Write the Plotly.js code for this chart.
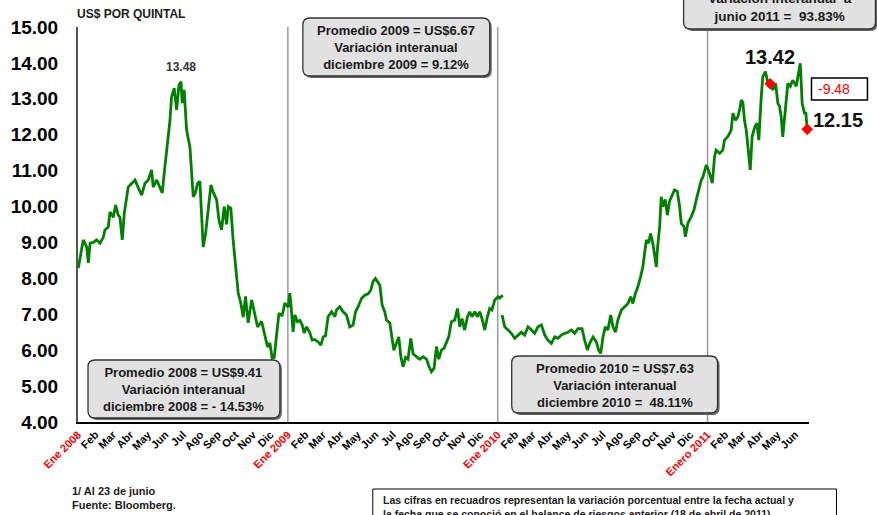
<!DOCTYPE html>
<html><head><meta charset="utf-8">
<script src="https://cdn.plot.ly/plotly-3.0.1.min.js"></script>
<style>html,body{margin:0;padding:0;background:#fff;}#chart{width:877px;height:515px;}</style>
</head><body><div id="chart"></div>
<script>
// x = months since January 2008 (0 = Ene 2008), y = US$ por quintal
const seg1Pos = [0.02,0.11,0.30,0.50,0.59,0.69,0.87,1.07,1.26,1.45,1.54,1.73,1.83,2.02,2.15,2.30,2.40,2.53,2.65,2.87,3.07,3.26,3.45,3.64,3.83,4.02,4.21,4.30,4.50,4.69,4.82,4.93,5.13,5.26,5.35,5.50,5.64,5.77,5.89,5.96,6.07,6.21,6.40,6.50,6.59,6.72,6.84,6.97,7.03,7.16,7.30,7.45,7.60,7.73,7.93,8.06,8.21,8.36,8.50,8.59,8.74,8.87,9.01,9.16,9.31,9.45,9.58,9.73,9.93,10.11,10.27,10.50,10.69,10.84,10.97,11.10,11.22,11.35,11.49,11.67,11.83,12.02,12.11,
12.17,12.30,12.40,12.55,12.69,12.82,12.93,13.07,13.26,13.39,13.54,13.73,13.89,14.02,14.15,14.30,14.50,14.69,14.78,14.97,15.16,15.35,15.54,15.73,15.87,16.02,16.21,16.40,16.59,16.74,16.87,17.01,17.26,17.39,17.54,17.64,17.83,17.93,18.06,18.21,18.34,18.46,18.59,18.73,18.87,19.03,19.16,19.35,19.54,19.73,19.93,20.06,20.21,20.36,20.50,20.63,20.78,20.93,21.07,21.20,21.35,21.54,21.70,21.83,21.96,22.11,22.27,22.40,22.53,22.69,22.84,22.97,23.10,23.26,23.41,23.54,23.67,23.83,24.02,24.11,24.29];
const seg1Val = [8.29,8.56,9.07,8.87,8.43,8.98,9.00,9.07,8.98,9.15,9.35,9.43,9.85,9.70,10.04,9.76,9.70,9.07,9.82,10.54,10.65,10.74,10.52,10.32,10.65,10.74,11.02,10.54,10.74,10.52,10.38,10.93,11.77,12.41,13.05,13.30,12.69,13.38,13.48,12.88,13.25,12.13,11.66,11.02,10.27,10.40,10.65,10.70,9.99,8.87,9.26,10.00,10.60,10.40,10.18,9.62,9.35,10.00,9.50,10.00,9.95,9.07,8.32,7.59,7.31,6.92,7.50,6.76,7.40,7.00,6.65,6.80,6.37,6.09,6.20,5.78,5.80,6.37,7.03,6.95,7.31,7.20,7.59,
7.31,6.51,6.98,6.79,6.83,6.70,6.48,6.65,6.48,6.28,6.30,6.23,6.14,6.37,6.40,6.93,7.07,6.93,7.12,7.21,7.07,6.98,6.65,6.70,7.07,7.21,7.44,7.53,7.57,7.67,7.91,8.00,7.81,7.26,7.07,6.84,6.76,6.37,6.00,6.20,6.37,5.82,5.54,5.80,5.75,6.33,5.90,5.82,5.75,5.82,5.75,5.56,5.40,5.50,6.10,5.75,6.00,6.05,6.20,6.37,6.79,6.84,7.16,6.65,6.88,6.56,6.93,7.07,6.93,7.07,6.93,7.07,6.88,6.56,6.93,7.16,7.12,7.40,7.49,7.45,7.53];
const seg2Pos = [24.25,24.40,24.59,24.78,24.97,25.16,25.35,25.54,25.73,25.93,26.11,26.30,26.50,26.69,26.87,27.07,27.26,27.45,27.64,27.83,28.02,28.21,28.40,28.59,28.82,28.97,29.13,29.26,29.45,29.64,29.77,29.89,30.02,30.15,30.30,30.46,30.59,30.73,30.87,31.07,31.26,31.45,31.60,31.73,31.87,32.02,32.17,32.30,32.40,32.50,32.63,32.74,32.87,32.97,33.07,33.13,33.26,33.35,33.45,33.58,33.70,33.83,33.96,34.11,34.27,34.40,34.50,34.65,34.73,34.87,35.07,35.22,35.35,35.49,35.64,35.73,35.83,35.93,
36.11,36.27,36.40,36.49,36.69,36.87,36.97,37.16,37.35,37.45,37.60,37.73,37.83,37.93,38.02,38.11,38.21,38.30,38.44,38.55,38.69,38.82,38.93,39.07,39.16,39.31,39.45,39.58,39.73,39.89,40.02,40.11,40.21,40.30,40.46,40.59,40.73,40.87,41.07,41.22,41.30,41.41,41.54,41.62,41.70];
const seg2Val = [6.98,6.65,6.56,6.47,6.33,6.42,6.50,6.42,6.65,6.56,6.47,6.65,6.70,6.42,6.28,6.19,6.37,6.33,6.42,6.47,6.50,6.56,6.47,6.60,6.60,6.28,6.00,6.19,6.37,6.23,6.00,5.91,6.37,6.65,6.56,6.98,6.65,6.50,6.84,7.12,7.20,7.30,7.49,7.30,7.58,7.77,8.04,8.32,8.70,9.07,8.98,9.25,8.98,8.70,8.32,8.80,9.44,10.27,10.00,10.20,9.76,10.16,10.32,10.46,10.42,10.00,9.53,9.44,9.16,9.53,9.72,9.90,10.18,10.46,10.74,10.82,11.02,11.16,
10.93,10.65,11.39,11.57,11.48,11.57,11.85,11.95,12.13,12.60,12.40,12.50,12.69,12.97,12.90,12.40,12.13,11.76,11.02,11.95,12.20,12.32,11.85,13.06,13.62,13.76,13.43,13.42,13.25,13.43,12.87,12.80,12.50,11.94,12.70,13.43,13.35,13.52,13.35,13.80,13.99,12.87,12.60,12.60,12.15];
const markPos = [39.58, 41.70];   // 18 abril 2011, 23 junio 2011
const markVal = [13.42, 12.15];
const peak2008Pos = 5.89, peak2008Val = 13.48;

const monthNames = ["Feb","Mar","Abr","May","Jun","Jul","Ago","Sep","Oct","Nov","Dic"];
const yearLabels = ["Ene 2008","Ene 2009","Ene 2010","Enero 2011"];
const monthsShown2011 = 5;
const yTickVals = [4,5,6,7,8,9,10,11,12,13,14,15];

const tickVals = [], tickText = [];
yearLabels.forEach((yl, i) => {
  tickVals.push(i*12); tickText.push('<span style="color:#ff0000">' + yl + '</span>');
  const n = i < 3 ? 11 : monthsShown2011;
  for (let m = 0; m < n; m++) { tickVals.push(i*12 + m + 1); tickText.push(monthNames[m]); }
});

const FONT = 'Arial, "Liberation Sans", sans-serif';
const W0 = 78, W1 = 809.5, T = 27, B = 422;
const px = x => (x - W0) / (W1 - W0);
const py = y => (B - y) / (B - T);

function roundPath(x0, y0, x1, y1, r) {
  const X = v => px(v).toFixed(5), Y = v => py(v).toFixed(5);
  return `M${X(x0+r)},${Y(y0)} L${X(x1-r)},${Y(y0)} Q${X(x1)},${Y(y0)} ${X(x1)},${Y(y0+r)} L${X(x1)},${Y(y1-r)} Q${X(x1)},${Y(y1)} ${X(x1-r)},${Y(y1)} L${X(x0+r)},${Y(y1)} Q${X(x0)},${Y(y1)} ${X(x0)},${Y(y1-r)} L${X(x0)},${Y(y0+r)} Q${X(x0)},${Y(y0)} ${X(x0+r)},${Y(y0)} Z`;
}
function grayBox(x0, y0, x1, y1) {
  return [
    {type:'path', xref:'paper', yref:'paper', layer:'above', path: roundPath(x0+2, y0+2, x1+2, y1+2, 7), fillcolor:'#666', line:{width:0}},
    {type:'path', xref:'paper', yref:'paper', layer:'above', path: roundPath(x0, y0, x1, y1, 7), fillcolor:'#e1e1e1', line:{color:'#333', width:1.3}}
  ];
}
function note(x, y, text, size, opts) {
  return Object.assign({xref:'paper', yref:'paper', x: px(x), y: py(y), text: text, showarrow:false,
    xanchor:'center', yanchor:'middle', font:{family:FONT, size:size, color:'#1a1a1a', weight:'bold'}}, opts || {});
}

const traces = [
  {x: seg1Pos, y: seg1Val, type:'scatter', mode:'lines', line:{color:'#008000', width:2.8}, hoverinfo:'skip'},
  {x: seg2Pos, y: seg2Val, type:'scatter', mode:'lines', line:{color:'#008000', width:2.8}, hoverinfo:'skip'},
  {x: markPos, y: markVal, type:'scatter', mode:'markers', cliponaxis:false, marker:{symbol:'diamond', color:'#ff0000', size:9}, hoverinfo:'skip'}
];

const shapes = [
  {type:'line', xref:'x', yref:'paper', x0:12, x1:12, y0:0, y1:1, line:{color:'#999', width:1.5}, layer:'below'},
  {type:'line', xref:'x', yref:'paper', x0:24, x1:24, y0:0, y1:1, line:{color:'#999', width:1.5}, layer:'below'},
  {type:'line', xref:'x', yref:'paper', x0:36, x1:36, y0:0, y1:1, line:{color:'#999', width:1.5}, layer:'below'},
  ...grayBox(303, 18, 490, 76),
  ...grayBox(88, 360, 280, 418),
  ...grayBox(512, 356, 718, 413),
  ...grayBox(684, -30, 876, 29),
  {type:'rect', xref:'paper', yref:'paper', layer:'above', x0:px(812), x1:px(868), y0:py(78), y1:py(100), fillcolor:'#fff', line:{color:'#000', width:1.5}},
  {type:'rect', xref:'paper', yref:'paper', layer:'above', x0:px(373), x1:px(837), y0:py(489), y1:py(530), fillcolor:'#fff', line:{color:'#000', width:1}}
];

const annotations = [
  note(75, 14, 'US$ POR QUINTAL', 12, {xanchor:'left'}),
  {xref:'x', yref:'y', x: peak2008Pos, y: peak2008Val, text: peak2008Val.toFixed(2), showarrow:false, yanchor:'bottom', yshift:6,
    font:{family:FONT, size:12, color:'#333', weight:'bold'}},
  note(396.5, 47, 'Promedio 2009 = US$6.67<br>Variación interanual<br>diciembre 2009 = 9.12%', 13),
  note(184, 389, 'Promedio 2008 = US$9.41<br>Variación interanual<br>diciembre 2008 = - 14.53%', 13),
  note(615, 385, 'Promedio 2010 = US$7.63<br>Variación interanual<br>diciembre 2010 =  48.11%', 13),
  note(780, 7.5, 'Variación interanual  a<br>junio 2011 =  93.83%', 13.5),
  {xref:'x', yref:'y', x: markPos[0], y: markVal[0], text: markVal[0].toFixed(2), showarrow:false, yanchor:'bottom', yshift:14,
    font:{family:FONT, size:20, color:'#111', weight:'bold'}},
  {xref:'x', yref:'y', x: markPos[1], y: markVal[1], text: markVal[1].toFixed(2), showarrow:false, xanchor:'left', yshift:9, xshift:4,
    font:{family:FONT, size:20, color:'#111', weight:'bold'}},
  note(817, 89, '-9.48', 14, {xanchor:'left', font:{family:FONT, size:14, color:'#ff0000'}}),
  note(70, 498.5, '1/ Al 23 de junio<br>Fuente: Bloomberg.', 11, {xanchor:'left', align:'left'}),
  note(381, 507, 'Las cifras en recuadros representan la variación porcentual entre la fecha actual y<br>la fecha que se conoció en el balance de riesgos anterior (18 de abril de 2011).', 10.5, {xanchor:'left', align:'left'})
];

const layout = {
  width: 877, height: 515,
  margin: {l: W0, r: 877 - W1, t: T, b: 515 - B, pad: 0},
  paper_bgcolor: '#fff', plot_bgcolor: '#fff',
  showlegend: false,
  font: {family: FONT, color: '#000'},
  xaxis: {
    range: [0, 41.8], showgrid:false, zeroline:false,
    showline:true, linecolor:'#000', linewidth:2,
    ticks:'', tickmode:'array', tickvals: tickVals, ticktext: tickText,
    tickangle: -45, tickfont: {family: FONT, size: 11, color:'#000', weight:'bold'}
  },
  yaxis: {
    range: [4, 15], showgrid:false, zeroline:false,
    showline:true, linecolor:'#555', linewidth:2,
    ticks:'', tickmode:'array', tickvals: yTickVals, ticktext: yTickVals.map(v => v.toFixed(2)),
    ticklabelstandoff: 14,
    tickfont: {family: FONT, size: 19, color:'#000', weight:'bold'}
  },
  shapes: shapes,
  annotations: annotations
};

Plotly.newPlot('chart', traces, layout, {displayModeBar:false, staticPlot:true});
</script>
</body></html>
